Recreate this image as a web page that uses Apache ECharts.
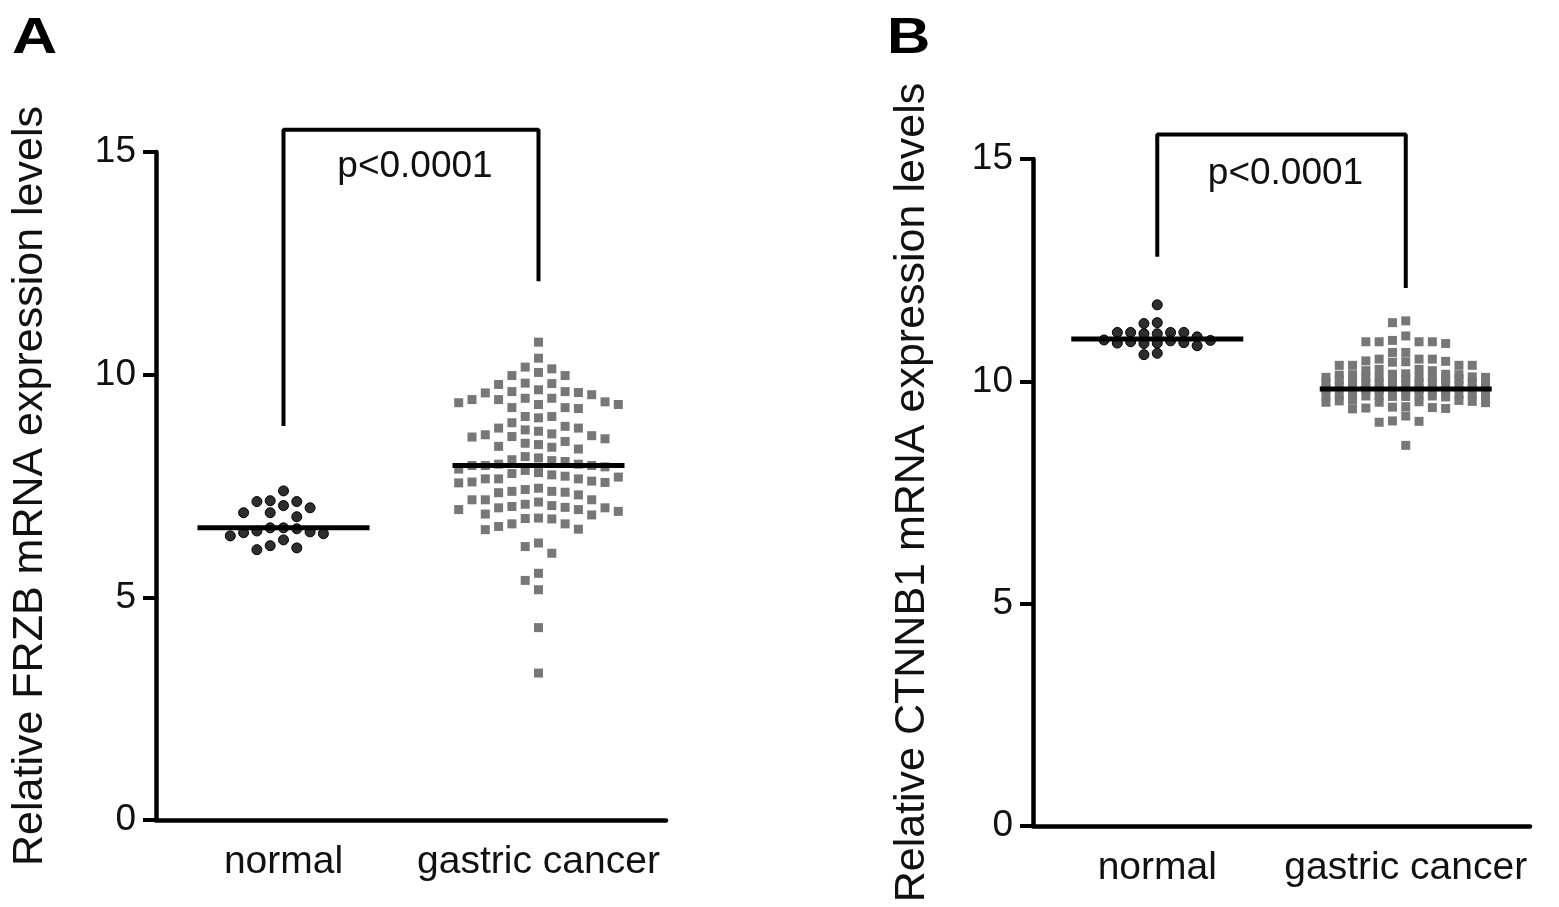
<!DOCTYPE html>
<html><head><meta charset="utf-8">
<script src="https://cdn.jsdelivr.net/npm/echarts@6/dist/echarts.min.js"></script>
<style>html,body{margin:0;padding:0;background:#fff}#c{width:1559px;height:907px}</style>
</head><body><div id="c"></div>
<script>
// ---------- data ----------
const categories = ['normal', 'gastric cancer'];
const titleA = 'Relative FRZB mRNA expression levels';
const titleB = 'Relative CTNNB1 mRNA expression levels';
const panelLabels = ['A', 'B'];
const pText = 'p<0.0001';

const normalA = [7.39, 7.06, 7.17, 7.15, 7.15, 7.01, 6.90, 6.81, 6.90, 6.56, 6.54, 6.49, 6.56,
  6.43, 6.38, 6.45, 6.47, 6.29, 6.16, 6.07, 6.11];
const gastricA = [10.73, 10.37, 10.17, 10.13, 9.98, 9.98, 10.05,
  9.81, 9.78, 9.80,
  9.66, 9.62, 9.59, 9.55, 9.60, 9.62,
  9.44, 9.26, 9.47, 9.24, 9.44, 9.06, 9.37, 9.39, 9.47, 9.26, 9.33, 9.33,
  9.03, 9.06,
  8.92, 8.84, 8.50, 8.80, 8.43, 8.61, 8.67, 8.65, 8.73, 8.76, 8.80, 8.56, 8.60, 8.63, 8.46,
  8.39, 8.33, 8.37,
  8.13, 8.07, 8.16, 8.09, 8.05,
  7.99, 7.96, 7.93, 7.88, 7.85, 7.96, 7.96, 7.99, 7.80, 7.78,
  7.75, 7.70, 7.66, 7.59, 7.58, 7.57, 7.61, 7.35, 7.66, 7.66, 7.42, 7.72,
  7.45, 7.38, 7.36, 7.30, 7.38,
  7.19, 7.19, 7.19,
  7.09, 7.04, 6.78, 7.01, 6.77, 6.97, 6.93, 6.85, 6.87, 6.97, 7.01, 6.76, 7.02, 7.06, 7.14,
  6.65, 6.53, 6.52, 6.59, 6.65,
  6.22, 6.14, 5.99,
  5.54, 5.38, 5.17,
  4.32, 3.30];

const normalB = [11.72, 11.32, 11.30, 11.10, 11.10, 11.07, 11.00, 11.07, 11.10, 11.10,
  10.89, 10.87, 10.85, 10.80, 10.93, 10.86, 10.86, 10.91, 10.92, 10.60, 10.63];
const gastricB = [11.36, 11.32,
  11.02,
  10.89, 10.89, 10.85, 10.89, 10.89, 10.92,
  10.65, 10.65,
  10.50, 10.50, 10.50,
  10.45, 10.44, 10.46, 10.43,
  10.36, 10.36, 10.36, 10.36,
  10.27, 10.27, 10.24, 10.24,
  10.16, 10.15, 10.17, 10.14, 10.16, 10.15,
  10.08, 10.07, 10.09, 10.06, 10.08, 10.10, 10.05, 10.08, 10.07, 10.09, 10.06, 10.08, 10.04,
  9.97, 9.95, 9.93, 9.96, 9.92, 9.94, 9.98, 9.90, 9.95, 9.93, 9.97, 9.91, 9.96,
  9.84, 9.82, 9.80, 9.83, 9.81, 9.85, 9.79, 9.82, 9.80, 9.83,
  9.70, 9.68, 9.66, 9.69, 9.67, 9.71, 9.65, 9.68, 9.70, 9.66, 9.69, 9.67, 9.72,
  9.55, 9.53, 9.57, 9.52, 9.56, 9.54, 9.58, 9.53,
  9.42, 9.40, 9.38, 9.43, 9.41, 9.39,
  9.22,
  9.10, 9.08, 9.11,
  8.56];

const medianA = [6.56, 7.96];
const medianB = [10.95, 9.83];
// [left leg bottom, top, right leg bottom]
const bracketA = [8.85, 15.5, 12.1];
const bracketB = [12.8, 15.55, 12.1];

// ---------- layout ----------
const gridA = {left: 156, top: 152, width: 510, height: 668};
const gridB = {left: 1033, top: 159, width: 497, height: 667};
const FONT = '"Liberation Sans", Arial, Helvetica, sans-serif';

function swarm(values, center, grid, slotPx, maxSlot, minDy) {
  const pxPerX = grid.width / 2, pxPerY = grid.height / 15;
  const sorted = values.slice().sort((a, b) => b - a);
  const placed = {};
  const order = [0];
  for (let k = 1; k <= maxSlot; k++) order.push(-k, k);
  return sorted.map(v => {
    const ypx = v * pxPerY;
    let best = 0, bestD = -1;
    for (const s of order) {
      const arr = placed[s] || [];
      let d = Infinity;
      arr.forEach(p => { d = Math.min(d, Math.abs(p - ypx)); });
      if (d >= minDy) { best = s; bestD = d; break; }
      if (d > bestD) { bestD = d; best = s; }
    }
    (placed[best] = placed[best] || []).push(ypx);
    return [center + best * slotPx / pxPerX, v];
  });
}

function panelSeries(gi, grid, normal, gastric, med, br, dyN, dyG) {
  const xi = gi * 2, yi = gi;
  const half = 86 / (grid.width / 2);
  const common = {xAxisIndex: xi, yAxisIndex: yi, animation: false};
  return [
    Object.assign({type: 'scatter', symbol: 'circle', symbolSize: 10, z: 3,
      itemStyle: {color: '#2e2e2e', borderColor: '#000', borderWidth: 1, opacity: 1},
      data: swarm(normal, 0.5, grid, 13.3, 4, dyN)}, common),
    Object.assign({type: 'scatter', symbol: 'rect', symbolSize: 9, z: 3,
      itemStyle: {color: '#777777', opacity: 1},
      data: swarm(gastric, 1.5, grid, 13.3, 6, dyG)}, common),
    Object.assign({type: 'line', symbol: 'none', z: 5, lineStyle: {color: '#000', width: 5},
      data: [[0.5 - half, med[0]], [0.5 + half, med[0]]]}, common),
    Object.assign({type: 'line', symbol: 'none', z: 5, lineStyle: {color: '#000', width: 5},
      data: [[1.5 - half, med[1]], [1.5 + half, med[1]]]}, common),
    Object.assign({type: 'line', symbol: 'none', z: 5, clip: false,
      lineStyle: {color: '#000', width: 4},
      data: [[0.5, br[0]], [0.5, br[1]], [1.5, br[1]], [1.5, br[2]]]}, common),
    Object.assign({type: 'scatter', symbolSize: 0, z: 6, clip: false,
      itemStyle: {opacity: 1},
      label: {show: true, formatter: pText, position: 'inside', fontSize: 37,
        fontFamily: FONT, color: '#111', offset: [4, 4]},
      data: [[1, 14.75]]}, common)
  ];
}

function xAxes(gi) {
  return [
    {type: 'value', gridIndex: gi, min: 0, max: 2, show: false, position: 'top'},
    {type: 'category', gridIndex: gi, data: categories, boundaryGap: true, position: 'bottom',
      axisLine: {show: true, onZero: false, lineStyle: {color: '#000', width: 4.5}},
      axisTick: {show: false},
      axisLabel: {interval: 0, fontSize: 39, fontFamily: FONT, color: '#111', margin: 23}}
  ];
}
function yAxis(gi, name, gap) {
  return {type: 'value', gridIndex: gi, min: 0, max: 15, interval: 5,
    axisLine: {show: true, onZero: false, lineStyle: {color: '#000', width: 4.5}},
    axisTick: {show: true, length: 13, lineStyle: {color: '#000', width: 4}},
    axisLabel: {fontSize: 37, fontFamily: FONT, color: '#111', margin: 20},
    splitLine: {show: false},
    name: name, nameLocation: 'middle', nameRotate: 90, nameGap: gap,
    nameTextStyle: {fontSize: 43, fontFamily: FONT, color: '#111'}};
}

const chart = echarts.init(document.getElementById('c'));
chart.setOption({
  backgroundColor: '#fff',
  animation: false,
  grid: [gridA, gridB],
  xAxis: xAxes(0).concat(xAxes(1)),
  yAxis: [yAxis(0, titleA, 104), yAxis(1, titleB, 99)],
  graphic: [
    {type: 'text', left: 12, top: 14, scaleX: 1.25, style: {text: panelLabels[0], font: 'bold 50px ' + FONT, fill: '#000'}},
    {type: 'text', left: 887, top: 14, scaleX: 1.2, style: {text: panelLabels[1], font: 'bold 50px ' + FONT, fill: '#000'}}
  ],
  series: panelSeries(0, gridA, normalA, gastricA, medianA, bracketA, 12, 13)
    .concat(panelSeries(1, gridB, normalB, gastricB, medianB, bracketB, 10, 9))
});
</script></body></html>
